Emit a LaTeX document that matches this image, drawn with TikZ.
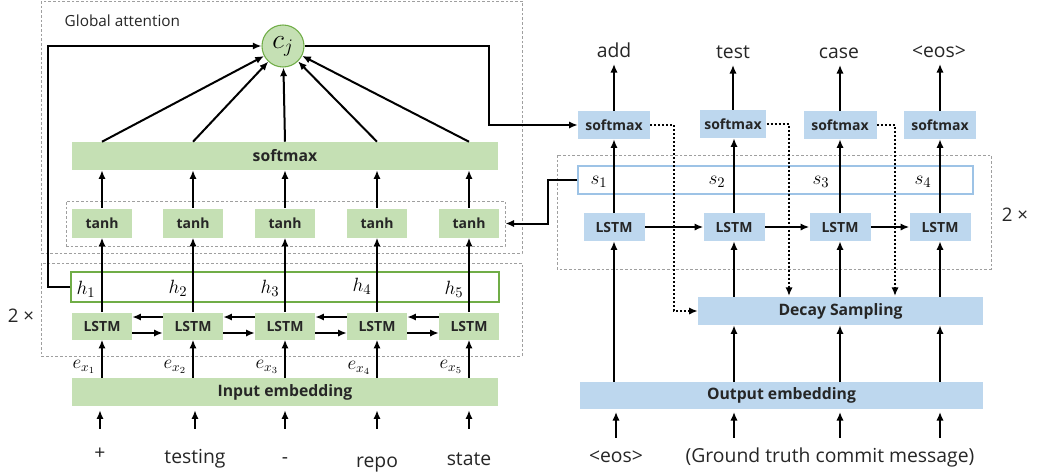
\documentclass[tikz,border=0pt]{standalone}
\usepackage{fontspec}
\setmainfont{Open Sans}
\usetikzlibrary{arrows.meta}

\definecolor{vertclair}{HTML}{C5E0B4}
\definecolor{vertfonce}{HTML}{70AD47}
\definecolor{bleuclair}{HTML}{BDD7EE}
\definecolor{bleubord}{HTML}{9DC3E6}
\definecolor{texte}{HTML}{262626}

\tikzset{
    fleche/.style={-{Latex[length=6.5pt,width=5.5pt]}, line width=1.5pt},
    pointille/.style={fleche, dash pattern=on 1.5pt off 1.5pt},
    cadre/.style={draw=gray!75, line width=0.6pt, dash pattern=on 2pt off 1.5pt},
    boiteverte/.style={fill=vertclair, inner sep=0pt, text=texte, font=\bfseries\fontsize{10.5}{12}\selectfont},
    boitebleue/.style={fill=bleuclair, inner sep=0pt, text=texte, font=\bfseries\fontsize{10.5}{12}\selectfont},
    grand/.style={font=\bfseries\fontsize{11.8}{14}\selectfont},
    mot/.style={text=texte, font=\fontsize{14.5}{17}\selectfont, text height=10.4pt, text depth=3pt, inner sep=2pt, anchor=base},
    etiq/.style={font=\fontsize{15}{17}\selectfont},
}

\begin{document}
    \begin{tikzpicture}[x=0.75pt, y=-0.75pt]
        \useasboundingbox (0,0) rectangle (1054,475);

        % Cadres en pointillés
        \draw[cadre] (41,1) rectangle (522,253);
        \draw[cadre] (41,263) rectangle (522,356);
        \draw[cadre] (557,155) rectangle (991,269);
        \node[anchor=west, text=texte, font=\fontsize{11.5}{14}\selectfont] (titre) at (60,21) {Global attention};
        \node[text=texte, font=\fontsize{14}{16}\selectfont] (foisg) at (21,316) {2 ×};
        \node[text=texte, font=\fontsize{14}{16}\selectfont] (foisd) at (1015,215) {2 ×};

        % Attention globale
        \node[circle, draw=vertfonce, fill=vertclair, line width=0.8pt, minimum size=31.5pt, inner sep=0pt] (cj) at (283,46) {\fontsize{20}{24}\selectfont$c_j$};
        \node[boiteverte, grand, minimum width=319.5pt, minimum height=21pt] (smax) at (285,156) {softmax};

        % Couche tanh
        \node[cadre, minimum width=329.25pt, minimum height=33.75pt] (grptanh) at (285.5,223.5) {};
        \node[boiteverte, minimum width=45pt, minimum height=21.75pt] (t1) at (102,223) {tanh};
        \node[boiteverte, minimum width=45pt, minimum height=21.75pt] (t2) at (193,223) {tanh};
        \node[boiteverte, minimum width=45pt, minimum height=21.75pt] (t3) at (285,223) {tanh};
        \node[boiteverte, minimum width=45pt, minimum height=21.75pt] (t4) at (377,223) {tanh};
        \node[boiteverte, minimum width=45pt, minimum height=21.75pt] (t5) at (469,223) {tanh};

        % Encodeur
        \node[draw=vertfonce, line width=0.8pt, minimum width=321pt, minimum height=22.5pt] (hbox) at (285,287) {};
        \node[etiq] (h1) at (86,289) {$h_1$};
        \node[etiq] (h2) at (178,288) {$h_2$};
        \node[etiq] (h3) at (270,288) {$h_3$};
        \node[etiq] (h4) at (362,286) {$h_4$};
        \node[etiq] (h5) at (454,289) {$h_5$};
        \node[boiteverte, minimum width=45pt, minimum height=20.25pt] (l1) at (102,326) {LSTM};
        \node[boiteverte, minimum width=45pt, minimum height=20.25pt] (l2) at (193,326) {LSTM};
        \node[boiteverte, minimum width=45pt, minimum height=20.25pt] (l3) at (285,326) {LSTM};
        \node[boiteverte, minimum width=45pt, minimum height=20.25pt] (l4) at (377,326) {LSTM};
        \node[boiteverte, minimum width=45pt, minimum height=20.25pt] (l5) at (469,326) {LSTM};
        \node[font=\fontsize{14}{16}\selectfont] (e1) at (84,367) {$e_{x_1}$};
        \node[font=\fontsize{14}{16}\selectfont] (e2) at (175,367) {$e_{x_2}$};
        \node[font=\fontsize{14}{16}\selectfont] (e3) at (267,367) {$e_{x_3}$};
        \node[font=\fontsize{14}{16}\selectfont] (e4) at (359,368) {$e_{x_4}$};
        \node[font=\fontsize{14}{16}\selectfont] (e5) at (451,367) {$e_{x_5}$};
        \node[boiteverte, grand, minimum width=319.5pt, minimum height=21pt] (inemb) at (285,392) {Input embedding};
        \node[mot] (w1) at (100,459) {+};
        \node[mot] (w2) at (195,463) {testing};
        \node[mot] (w3) at (285,463) {-};
        \node[mot] (w4) at (377,467) {repo};
        \node[mot] (w5) at (469,465) {state};

        % Décodeur
        \node[boitebleue, minimum width=54pt, minimum height=21pt] (dsm1) at (614,125) {softmax};
        \node[boitebleue, minimum width=50pt, minimum height=21pt] (dsm2) at (733,124) {softmax};
        \node[boitebleue, minimum width=54.75pt, minimum height=21pt] (dsm3) at (840,125) {softmax};
        \node[boitebleue, minimum width=54pt, minimum height=21pt] (dsm4) at (940,125) {softmax};
        \node[mot] (o1) at (614,57) {add};
        \node[mot] (o2) at (733,58) {test};
        \node[mot] (o3) at (839,58) {case};
        \node[mot] (o4) at (939,57) {<eos>};
        \node[draw=bleubord, line width=0.8pt, minimum width=296.25pt, minimum height=21pt] (sbox) at (775.5,180) {};
        \node[etiq] (s1) at (599,182) {$s_1$};
        \node[etiq] (s2) at (717,182) {$s_2$};
        \node[etiq] (s3) at (821,182) {$s_3$};
        \node[etiq] (s4) at (923,182) {$s_4$};
        \node[boitebleue, minimum width=45.75pt, minimum height=21pt] (dl1) at (614,227) {LSTM};
        \node[boitebleue, minimum width=45.75pt, minimum height=21pt] (dl2) at (734,227) {LSTM};
        \node[boitebleue, minimum width=45.75pt, minimum height=21pt] (dl3) at (840,227) {LSTM};
        \node[boitebleue, minimum width=45.75pt, minimum height=21pt] (dl4) at (940,227) {LSTM};
        \node[boitebleue, grand, minimum width=213.75pt, minimum height=21pt] (decay) at (840.5,311) {Decay Sampling};
        \node[boitebleue, grand, minimum width=302.25pt, minimum height=20.25pt] (outemb) at (781.5,395.5) {Output embedding};
        \node[mot] (eos) at (616,462) {<eos>};
        \node[mot] (gt) at (830,462) {(Ground truth commit message)};

        % Flèches de l'encodeur
        \draw[fleche] (hbox.west) -- ++(-22,0) |- (cj.west);
        \draw[fleche] (cj.east) -- ++(184,0) |- (dsm1.west);
        \draw[fleche] (smax.north -| t1) -- (cj);
        \draw[fleche] (smax.north -| t2) -- (cj);
        \draw[fleche] (smax.north -| t3) -- (cj);
        \draw[fleche] (smax.north -| t4) -- (cj);
        \draw[fleche] (smax.north -| t5) -- (cj);
        \draw[fleche] (t1.north) -- (smax.south -| t1);
        \draw[fleche] (t2.north) -- (smax.south -| t2);
        \draw[fleche] (t3.north) -- (smax.south -| t3);
        \draw[fleche] (t4.north) -- (smax.south -| t4);
        \draw[fleche] (t5.north) -- (smax.south -| t5);
        \draw[fleche] (l1.north) -- (t1.south);
        \draw[fleche] (l2.north) -- (t2.south);
        \draw[fleche] (l3.north) -- (t3.south);
        \draw[fleche] (l4.north) -- (t4.south);
        \draw[fleche] (l5.north) -- (t5.south);
        \draw[fleche] ([yshift=6.75pt]l2.west) -- ([yshift=6.75pt]l1.east);
        \draw[fleche] ([yshift=6.75pt]l3.west) -- ([yshift=6.75pt]l2.east);
        \draw[fleche] ([yshift=6.75pt]l4.west) -- ([yshift=6.75pt]l3.east);
        \draw[fleche] ([yshift=6.75pt]l5.west) -- ([yshift=6.75pt]l4.east);
        \draw[fleche] ([yshift=-5.25pt]l1.east) -- ([yshift=-5.25pt]l2.west);
        \draw[fleche] ([yshift=-5.25pt]l2.east) -- ([yshift=-5.25pt]l3.west);
        \draw[fleche] ([yshift=-5.25pt]l3.east) -- ([yshift=-5.25pt]l4.west);
        \draw[fleche] ([yshift=-5.25pt]l4.east) -- ([yshift=-5.25pt]l5.west);
        \draw[fleche] (inemb.north -| l1) -- (l1.south);
        \draw[fleche] (inemb.north -| l2) -- (l2.south);
        \draw[fleche] (inemb.north -| l3) -- (l3.south);
        \draw[fleche] (inemb.north -| l4) -- (l4.south);
        \draw[fleche] (inemb.north -| l5) -- (l5.south);
        \draw[fleche, shorten <=10pt, shorten >=3pt] (w1.north) -- (inemb.south -| w1);
        \draw[fleche, shorten <=10pt, shorten >=3pt] (w2.north |- w1.north) -- (inemb.south -| w2);
        \draw[fleche, shorten <=10pt, shorten >=3pt] (w3.north |- w1.north) -- (inemb.south -| w3);
        \draw[fleche, shorten <=10pt, shorten >=3pt] (w4.north |- w1.north) -- (inemb.south -| w4);
        \draw[fleche, shorten <=10pt, shorten >=3pt] (w5.north |- w1.north) -- (inemb.south -| w5);

        % Flèches du décodeur
        \draw[fleche] (sbox.west) -- ++(-29,0) |- (grptanh.east);
        \draw[fleche] (dsm1.north) -- (o1.south -| dsm1);
        \draw[fleche] (dsm2.north) -- (o2.south -| dsm2);
        \draw[fleche] (dsm3.north) -- (o3.south -| dsm3);
        \draw[fleche] (dsm4.north) -- (o4.south -| dsm4);
        \draw[fleche] (dl1.north) -- (dsm1.south -| dl1);
        \draw[fleche] (dl2.north) -- (dsm2.south -| dl2);
        \draw[fleche] (dl3.north) -- (dsm3.south -| dl3);
        \draw[fleche] (dl4.north) -- (dsm4.south -| dl4);
        \draw[fleche] (dl1.east) -- (dl2.west);
        \draw[fleche] (dl2.east) -- (dl3.west);
        \draw[fleche] (dl3.east) -- (dl4.west);
        \draw[fleche] (outemb.north -| dl1) -- (dl1.south);
        \draw[fleche] (outemb.north -| dl2) -- (decay.south -| dl2);
        \draw[fleche] (outemb.north -| dl3) -- (decay.south -| dl3);
        \draw[fleche] (outemb.north -| dl4) -- (decay.south -| dl4);
        \draw[fleche] (decay.north -| dl2) -- (dl2.south);
        \draw[fleche] (decay.north -| dl3) -- (dl3.south);
        \draw[fleche] (decay.north -| dl4) -- (dl4.south);
        \draw[fleche, shorten <=5.5pt, shorten >=2pt] (eos.north) -- (outemb.south -| eos);
        \draw[fleche, shorten <=5.5pt, shorten >=2pt] (gt.north -| dl2) -- (outemb.south -| dl2);
        \draw[fleche, shorten <=5.5pt, shorten >=2pt] (gt.north -| dl3) -- (outemb.south -| dl3);
        \draw[fleche, shorten <=5.5pt, shorten >=2pt] (gt.north -| dl4) -- (outemb.south -| dl4);

        % Échantillonnage (pointillés)
        \coordinate (ds2) at (789,296);
        \coordinate (ds3) at (895,296);
        \draw[pointille] (dsm1.east) -- ++(24,0) |- (decay.west);
        \draw[pointille] (dsm2.east) -| (ds2);
        \draw[pointille] (dsm3.east) -| (ds3);

    \end{tikzpicture}
\end{document}
